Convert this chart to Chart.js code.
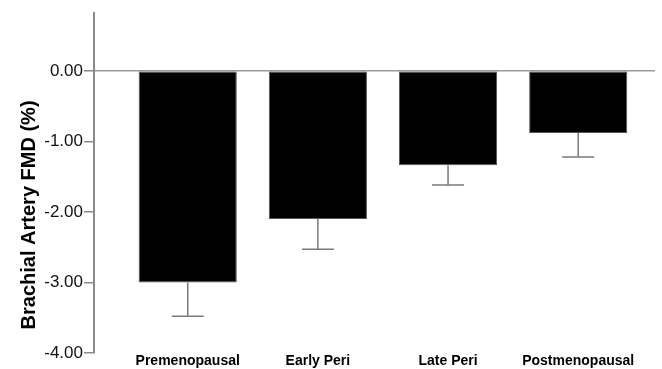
<!DOCTYPE html>
<html>
<head>
<meta charset="utf-8">
<script src="https://cdn.jsdelivr.net/npm/chart.js@4.4.0/dist/chart.umd.min.js"></script>
<style>
  body { margin: 0; background: #fff; }
  #wrap { width: 662px; height: 369px; position: relative; }
</style>
</head>
<body>
<div id="wrap"><canvas id="fmdChart"></canvas></div>
<script>
var categories = ['Premenopausal', 'Early Peri', 'Late Peri', 'Postmenopausal'];
var meanFmd = [-3.00, -2.10, -1.34, -0.88];
var seFmd = [0.48, 0.43, 0.28, 0.34];
var yTicks = [-4, -3, -2, -1, 0];
var yTitle = 'Brachial Artery FMD (%)';

// lower whisker of each error bar, drawn below the bar
var errorBars = {
    id: 'errorBars',
    afterDatasetsDraw: function(chart) {
        var ctx = chart.ctx;
        var xs = chart.scales.x, ys = chart.scales.y;
        ctx.save();
        ctx.strokeStyle = '#7a7a7a';
        ctx.lineWidth = 1.5;
        meanFmd.forEach(function(m, i) {
            var x = xs.getPixelForValue(i);
            var y0 = ys.getPixelForValue(m);
            var y1 = ys.getPixelForValue(m - seFmd[i]);
            ctx.beginPath();
            ctx.moveTo(x, y0);
            ctx.lineTo(x, y1);
            ctx.moveTo(x - 16, y1);
            ctx.lineTo(x + 16, y1);
            ctx.stroke();
        });
        ctx.restore();
    }
};

// axis title, centred on the 0 to -4 part of the axis like the original
var sideTitle = {
    id: 'sideTitle',
    afterDraw: function(chart) {
        var ctx = chart.ctx;
        var ys = chart.scales.y;
        ctx.save();
        ctx.translate(35, ys.getPixelForValue(-2) + 3);
        ctx.rotate(-Math.PI / 2);
        ctx.font = 'bold 20px "Liberation Sans", Arial, sans-serif';
        ctx.fillStyle = '#000';
        ctx.textAlign = 'center';
        ctx.textBaseline = 'alphabetic';
        ctx.fillText(yTitle, 0, 0);
        ctx.restore();
    }
};

var ctx = document.getElementById('fmdChart').getContext('2d');
var fmdChart = new Chart(ctx, {
    type: 'bar',
    data: {
        datasets: [{
            data: meanFmd.map(function(v, i) { return { x: i, y: v }; }),
            backgroundColor: '#000',
            borderColor: '#555',
            borderWidth: 1,
            borderSkipped: false,
            categoryPercentage: 1,
            barPercentage: 0.754
        }]
    },
    options: {
        responsive: true,
        maintainAspectRatio: false,
        animation: false,
        layout: { padding: { left: 0, right: 7, top: 13, bottom: 0 } },
        plugins: {
            legend: { display: false },
            tooltip: { enabled: false }
        },
        scales: {
            x: {
                type: 'linear',
                offset: false,
                min: -0.72,
                max: 3.59,
                grid: { display: false },
                border: { display: false },
                afterBuildTicks: function(scale) {
                    scale.ticks = categories.map(function(c, i) { return { value: i }; });
                },
                afterFit: function(scale) { scale.height = 16; },
                ticks: {
                    autoSkip: false,
                    maxRotation: 0,
                    padding: -8,
                    color: '#000',
                    font: { family: '"Liberation Sans", Arial, sans-serif', size: 14, weight: 'bold' },
                    callback: function(v) { return categories[v]; }
                }
            },
            y: {
                min: -4,
                max: 0.82,
                afterBuildTicks: function(scale) {
                    scale.ticks = yTicks.map(function(v) { return { value: v }; });
                },
                afterFit: function(scale) { scale.width = 94; },
                border: { display: true, color: '#8a8a8a', width: 2 },
                grid: {
                    drawOnChartArea: true,
                    color: function(c) { return c.tick && c.tick.value === 0 ? '#9a9a9a' : 'rgba(0,0,0,0)'; },
                    lineWidth: 1.5,
                    tickColor: '#8a8a8a',
                    tickLength: 10
                },
                ticks: {
                    padding: 1,
                    color: '#111',
                    font: { family: '"Liberation Sans", Arial, sans-serif', size: 17 },
                    callback: function(v) { return v.toFixed(2); }
                }
            }
        }
    },
    plugins: [errorBars, sideTitle]
});
</script>
</body>
</html>
